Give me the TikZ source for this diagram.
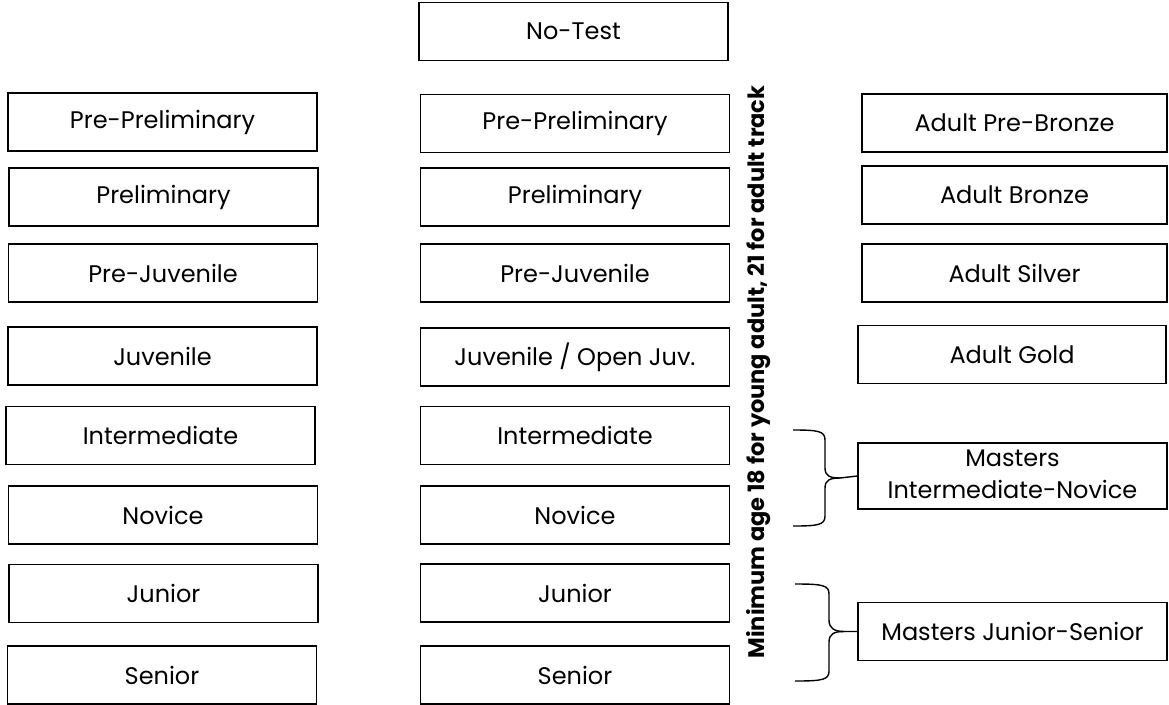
\documentclass[tikz,border=0pt]{standalone}
\usepackage{fontspec}
\setmainfont{Poppins}
\begin{document}
\begin{tikzpicture}[x=1pt,y=-1pt,
  box/.style={draw=black, line width=1.6pt, minimum width=309pt, minimum height=58pt, inner sep=0pt, font=\fontsize{24}{32}\selectfont},
  brace/.style={draw=black, line width=1.4pt}]
\useasboundingbox (0,0) rectangle (1169,704);
% left column
\node[box] (l1) at (162.5,122) {Pre-Preliminary};
\node[box] (l2) at (163.5,197) {Preliminary};
\node[box] (l3) at (163,273) {Pre-Juvenile};
\node[box] (l4) at (162.5,356) {Juvenile};
\node[box] (l5) at (160.5,435.5) {Intermediate};
\node[box] (l6) at (163,515) {Novice};
\node[box] (l7) at (163.5,593.5) {Junior};
\node[box] (l8) at (162,675) {Senior};
% middle column
\node[box] (m0) at (573.5,31.5) {No-Test};
\node[box] (m1) at (575,123.5) {Pre-Preliminary};
\node[box] (m2) at (575,197) {Preliminary};
\node[box] (m3) at (575,273) {Pre-Juvenile};
\node[box] (m4) at (575,357) {Juvenile / Open Juv.};
\node[box] (m5) at (575,435.5) {Intermediate};
\node[box] (m6) at (575,515) {Novice};
\node[box] (m7) at (575,593) {Junior};
\node[box] (m8) at (575,675) {Senior};
% vertical note
\node[rotate=90, font=\fontsize{22.5}{26}\selectfont\bfseries] (note) at (759,372) {Minimum age 18 for young adult, 21 for adult track};
% right column
\node[box, minimum width=305pt] (r1) at (1014.5,123) {Adult Pre-Bronze};
\node[box, minimum width=305pt] (r2) at (1014.5,195) {Adult Bronze};
\node[box, minimum width=305pt] (r3) at (1014.5,273) {Adult Silver};
\node[box, minimum width=308pt] (r4) at (1012,354.5) {Adult Gold};
\node[box, minimum width=309pt, minimum height=66pt] (mi) at (1012.5,476) {\raisebox{-4pt}{\begin{tabular}{@{}c@{}}Masters\\Intermediate-Novice\end{tabular}}};
\node[box, minimum width=309pt] (mj) at (1012.5,631.5) {Masters Junior-Senior};
% braces
\coordinate (b1t) at (793,430);
\coordinate (b1b) at (793,526);
\coordinate (b2t) at (795,584);
\coordinate (b2b) at (795,681);
\draw[brace] (b1t) .. controls (818,430) and (825,431) .. (825,440) -- (825,468)
  .. controls (825,476) and (830,478) .. (840,478) -- (mi.west);
\draw[brace] (840,478) .. controls (830,478) and (825,480) .. (825,488) -- (825,516)
  .. controls (825,525) and (818,526) .. (b1b);
\draw[brace] (b2t) .. controls (822,584) and (829,585) .. (829,594) -- (829,620)
  .. controls (829,628) and (834,631.5) .. (844,631.5) -- (mj.west);
\draw[brace] (844,631.5) .. controls (834,631.5) and (829,634) .. (829,642) -- (829,671)
  .. controls (829,680) and (822,681) .. (b2b);
\end{tikzpicture}
\end{document}
